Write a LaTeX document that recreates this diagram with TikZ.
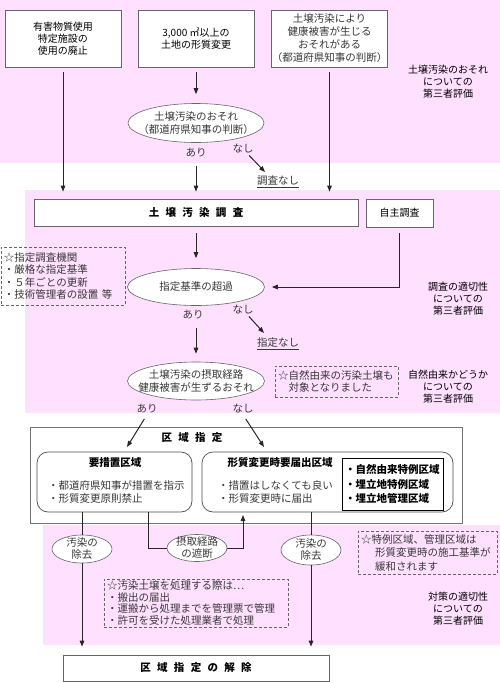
\documentclass[tikz,border=0pt]{standalone}
\usepackage{fontspec}
\setmainfont{Noto Sans CJK JP}
\usetikzlibrary{arrows.meta,shapes.geometric,calc}
\definecolor{bandpink}{RGB}{255,224,255}
\newcommand\fG{\fontsize{10}{12}\selectfont}
\newcommand\fGb{\fontsize{10.5}{12.5}\selectfont\bfseries}
\newcommand\fM{\fontsize{10.5}{12.5}\selectfont\color{black!78}}
\newcommand\spc{\hspace{6.3pt}}
\tikzset{
  gbox/.style={draw=black!60, line width=0.7pt, fill=white, inner sep=0pt, align=center, font=\fG},
  mbox/.style={draw=black!60, line width=0.7pt, fill=white, inner sep=0pt, align=center, font=\fM},
  ell/.style={ellipse, draw=black!60, line width=0.6pt, fill=white, inner sep=0pt},
  mtext/.style={inner sep=1pt, align=center, font=\fM},
  gtext/.style={inner sep=1pt, align=center, font=\fG},
  dbox/.style={draw=black!60, line width=0.6pt, dash pattern=on 3pt off 2pt, inner ysep=0pt, inner xsep=3pt, align=left, font=\fM},
  rbox/.style={draw=black!70, line width=0.7pt, rounded corners=11pt, fill=white},
  conn/.style={draw=black!85, line width=1pt},
  arr/.style={conn, -{Triangle[length=6pt,width=4.5pt]}}
}
\begin{document}
\begin{tikzpicture}[x=1pt,y=-1pt]
\useasboundingbox (0,0) rectangle (500,683);
\fill[bandpink] (0,0) rectangle (500,163);
\fill[bandpink] (25,190) rectangle (500,413);
\fill[bandpink] (43,525) rectangle (500,645);

% top boxes
\node[gbox, minimum width=116pt, minimum height=57pt] (A) at (63,38.5) {有害物質使用\\特定施設の\\使用の廃止};
\node[gbox, minimum width=116pt, minimum height=57pt] (B) at (196,38.5) {3,000 ㎡以上の\\土地の形質変更};
\node[mbox, minimum width=115pt, minimum height=57pt, font=\fontsize{10.5}{13}\selectfont\color{black!78}] (C) at (329.5,38.5) {土壌汚染により\\健康被害が生じる\\おそれがある\\（都道府県知事の判断）};
\node[gtext] (T1) at (448,82) {土壌汚染のおそれ\\についての\\第三者評価};

\node[ell, minimum width=136pt, minimum height=39pt] (E1) at (196,123) {};
\node[mtext] (E1t) at (E1) {土壌汚染のおそれ\\（都道府県知事の判断）};
\node[mtext] (ari1) at (196,153) {あり};
\node[mtext] (nashi1) at (243,149) {なし};
\node[mtext] (nochosa) at (278,182) {\underline{調査なし}};
\coordinate (n1e) at (265,172);

% survey
\node[gbox, minimum width=324pt, minimum height=27pt, font=\fGb] (D) at (196,212.5) {土\spc 壌\spc 汚\spc 染\spc 調\spc 査};
\node[gbox, minimum width=67pt, minimum height=28pt] (E) at (399.5,213) {自主調査};

\node[ell, minimum width=137pt, minimum height=37pt] (E2) at (196,287) {};
\node[mtext] (E2t) at (E2) {指定基準の超過};
\node[dbox, text width=118pt, minimum height=58pt] (K1) at (63,276) {☆指定調査機関\\・厳格な指定基準\\・５年ごとの更新\\・技術管理者の設置 等};
\node[gtext] (T2) at (458,299) {調査の適切性\\についての\\第三者評価};
\node[mtext] (ari2) at (193,315) {あり};
\node[mtext] (nashi2) at (243,310) {なし};
\node[mtext] (noshitei) at (278,344) {\underline{指定なし}};
\coordinate (n2e) at (264,333);

\node[ell, minimum width=137pt, minimum height=38pt] (E3) at (196,381) {};
\node[mtext] (E3t) at (E3) {土壌汚染の摂取経路\\健康被害が生ずるおそれ};
\node[dbox, text width=117pt, minimum height=31pt] (K2) at (336.5,381.5) {☆自然由来の汚染土壌も\\　対象となりました};
\node[gtext] (T3) at (448,387) {自然由来かどうか\\についての\\第三者評価};
\node[mtext] (ari3) at (147,409) {あり};
\node[mtext] (nashi3) at (243,409) {なし};
\coordinate (t1) at (127,447);
\coordinate (t2) at (264,447);

% designation
\node[draw=black!55, line width=0.7pt, fill=white, minimum width=432pt, minimum height=96pt] (K) at (246,475) {};
\node[inner sep=1pt, font=\fGb] (Kt) at (192,438) {区\spc 域\spc 指\spc 定};
\node[rbox, minimum width=155pt, minimum height=60pt] (R1) at (114.5,482) {};
\node[inner sep=1pt, font=\fGb] (R1t) at (115,463) {要措置区域};
\node[mtext, anchor=west, align=left] (R1b) at (47,492) {・都道府県知事が措置を指示\\・形質変更原則禁止};
\node[rbox, minimum width=251pt, minimum height=60pt] (R2) at (327.5,482) {};
\node[inner sep=1pt, font=\fGb] (R2t) at (280,463) {形質変更時要届出区域};
\node[mtext, anchor=west, align=left] (R2b) at (217,492) {・措置はしなくても良い\\・形質変更時に届出};
\node[draw=black, line width=1pt, fill=white, text width=95pt, inner xsep=3pt, inner ysep=0pt, minimum height=52pt, align=left, font=\fontsize{10.5}{14.5}\selectfont\bfseries] (S) at (392.5,484) {・自然由来特例区域\\・埋立地特例区域\\・埋立地管理区域};

% measures
\node[ell, minimum width=60pt, minimum height=28pt] (L1) at (82,549) {};
\node[mtext, font=\fontsize{10.5}{12}\selectfont\color{black!78}] (L1t) at (L1) {汚染の\\除去};
\node[ell, minimum width=60pt, minimum height=27pt] (M) at (197,548) {};
\node[mtext, font=\fontsize{10.5}{12}\selectfont\color{black!78}] (Mt) at (M) {摂取経路\\の遮断};
\node[ell, minimum width=60pt, minimum height=30pt] (Rr) at (311,550) {};
\node[mtext, font=\fontsize{10.5}{12}\selectfont\color{black!78}] (Rrt) at (Rr) {汚染の\\除去};
\coordinate (m1) at (148,512);
\coordinate (m2) at (243,515);

\node[dbox, text width=178pt, minimum height=48pt, font=\fontsize{10.5}{11.5}\selectfont\color{black!78}] (K3) at (196,603) {☆汚染土壌を処理する際は…\\・搬出の届出\\・運搬から処理までを管理票で管理\\・許可を受けた処理業者で処理};
\node[dbox, text width=133pt, minimum height=43pt, font=\fontsize{10.5}{13.5}\selectfont\color{black!78}] (K4) at (427.5,552.5) {☆特例区域、管理区域は\\\hspace*{14pt}形質変更時の施工基準が\\\hspace*{14pt}緩和されます};
\node[gtext] (T4) at (458,609) {対策の適切性\\についての\\第三者評価};

\node[gbox, minimum width=266pt, minimum height=26pt, font=\fGb] (F) at (196,668) {区\spc 域\spc 指\spc 定\spc の\spc 解\spc 除};

% connectors
\draw[arr, shorten <=5pt, shorten >=7pt] (A.south) -- (A.south |- D.north);
\draw[arr, shorten <=5pt, shorten >=9pt] (B.south) -- (E1.north);
\draw[arr, shorten <=7pt, shorten >=7pt] (E1.south |- ari1.south) -- (E1.south |- D.north);
\draw[arr, shorten <=1pt] (nashi1) -- (n1e);
\draw[arr, shorten <=5pt, shorten >=7pt] (C.south) -- (C.south |- D.north);
\draw[arr, shorten <=7pt, shorten >=10pt] (D.south) -- (E2.north);
\draw[arr, shorten <=6pt, shorten >=7pt] (E.south) |- (E2.east);
\draw[arr, shorten <=1pt] (nashi2) -- (n2e);
\draw[arr, shorten <=7pt, shorten >=8pt] (E2.south |- ari2.south) -- (E3.north);
\draw[arr, shorten <=5pt] (ari3.south) -- (t1);
\draw[arr, shorten <=5pt] (nashi3.south) -- (t2);

\draw[conn] (L1.north) -- (L1.north |- R1.south);
\draw[arr, shorten >=8pt] (L1.south) -- (L1.south |- F.north);
\draw[conn] (M.west) -| (m1);
\draw[arr] (M.east) -| (m2);
\draw[conn] (Rr.north) -- (Rr.north |- R2.south);
\draw[arr, shorten >=8pt] (Rr.south) -- (Rr.south |- F.north);
\end{tikzpicture}
\end{document}
